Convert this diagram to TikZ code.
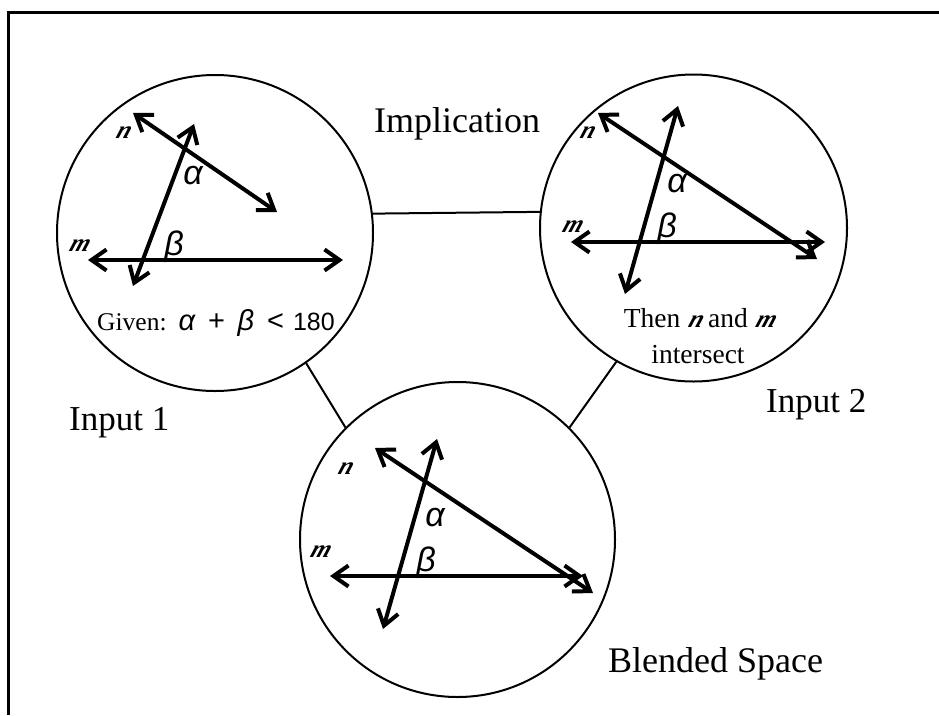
\documentclass[tikz,border=0pt]{standalone}
\usepackage{fontspec}
\setmainfont{Liberation Serif}
\newfontfamily\greekfont{Liberation Sans}
\newfontfamily\letterfont[FakeSlant=0.35]{Liberation Serif}
\usetikzlibrary{arrows.meta}
\tikzset{
	space/.style={circle, draw, line width=2pt, inner sep=0pt},
	link/.style={line width=2pt},
	ray/.style={line width=4pt, {Straight Barb[length=15pt, width=21pt, line width=4pt]}-{Straight Barb[length=15pt, width=21pt, line width=4pt]}},
	title/.style={font=\fontsize{36}{40}\selectfont, anchor=base west, inner sep=0pt},
	angle/.style={font=\fontsize{34}{36}\selectfont\greekfont\itshape},
	letter/.style={font=\fontsize{25}{28}\selectfont\letterfont\bfseries\itshape},
	note/.style={font=\fontsize{27.5}{30}\selectfont}
}
\newcommand{\lettern}{{\fontsize{25}{28}\selectfont\letterfont\bfseries\itshape n}}
\newcommand{\letterm}{{\fontsize{25}{28}\selectfont\letterfont\bfseries\itshape m}}
\begin{document}
\begin{tikzpicture}[x=1pt, y=-1pt]
	\useasboundingbox (0,0) rectangle (939,715);
	% === frame ===
	\draw[line width=3pt] (8,715) -- (8,12) -- (939,12);

	% === spaces and links ===
	\node[space, minimum size=316pt] (input1) at (215,233) {};
	\node[space, minimum size=307pt] (input2) at (693.5,228) {};
	\node[space, minimum size=315pt] (blend) at (457.5,539.5) {};
	\draw[link] (input1.7.3) -- (input2.174.4);
	\draw[link] (input1.-55) -- (blend.135);
	\draw[link] (input2.-120) -- (blend.45);

	% === left circle ===
	\draw[ray] (133,113) -- (277,212);
	\draw[ray] (194,124) -- (133,286);
	\draw[ray] (88,260) -- (343,260);
	\node[angle] (alpha1) at (193,176) {α};
	\node[angle] (beta1) at (174,247) {β};
	\node[letter] (n1) at (122,133) {n};
	\node[letter] (m1) at (78,246) {m};
	\node[note, font=\fontsize{25.5}{30}\selectfont, anchor=base west, inner sep=0pt] (given) at (97,330) {Given:\hspace{12pt}{\fontsize{29}{30}\selectfont\greekfont\itshape α}\hspace{13pt}{\fontsize{29}{30}\selectfont\greekfont +}\hspace{12.5pt}{\fontsize{29}{30}\selectfont\greekfont\itshape β}\hspace{13pt}{\fontsize{29}{30}\selectfont\greekfont <}\hspace{9pt}{\fontsize{25}{30}\selectfont\greekfont 180}};

	% === right circle ===
	\draw[ray] (598,113) -- (817,259);
	\draw[ray] (678,106) -- (625,294);
	\draw[ray] (571,242) -- (825,242);
	\node[angle] (alpha2) at (677,184) {α};
	\node[angle] (beta2) at (667,229) {β};
	\node[letter] (n2) at (586,133) {n};
	\node[letter] (m2) at (571,227) {m};
	\node[note] (then) at (699,318) {Then \lettern{} and \letterm};
	\node[note] (meet) at (698,355) {intersect};

	% === bottom circle ===
	\draw[ray] (375,448) -- (593,593);
	\draw[ray] (437,439) -- (383,629);
	\draw[ray] (330,576) -- (583,576);
	\node[angle] (alpha3) at (435,518) {α};
	\node[angle] (beta3) at (426,563) {β};
	\node[letter] (n3) at (344,469) {n};
	\node[letter] (m3) at (319,552) {m};

	% === names ===
	\node[title] (implication) at (374,132) {Implication};
	\node[title, font=\fontsize{35}{40}\selectfont] (name1) at (69,430) {Input 1};
	\node[title, font=\fontsize{35}{40}\selectfont] (name2) at (766,412) {Input 2};
	\node[title] (name3) at (608,672) {Blended Space};
\end{tikzpicture}
\end{document}
